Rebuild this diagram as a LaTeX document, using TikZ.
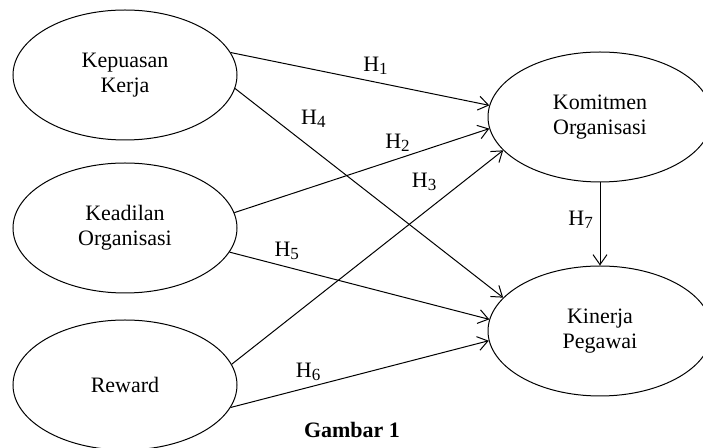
\documentclass[tikz,border=0pt]{standalone}
\usepackage{fontspec}
\setmainfont{Liberation Serif}
\usetikzlibrary{shapes,arrows.meta}
\tikzstyle{var} = [ellipse, draw, line width=0.5pt, inner sep=0pt,
    minimum width=112pt, minimum height=65pt, align=center]
\tikzstyle{line} = [draw, line width=0.5pt, -{Straight Barb[length=5pt,width=7pt]}]
\newcommand{\hsub}[1]{H\raisebox{-0.3ex}{\fontsize{8.5}{8.5}\selectfont #1}}

\begin{document}
\begin{tikzpicture}[x=0.5pt, y=-0.5pt, font=\fontsize{11}{12.5}\selectfont]
    \useasboundingbox (0,0) rectangle (703,448);
    % Place nodes
    \node [var] (kepuasan) at (125,75) {Kepuasan\\Kerja};
    \node [var, below of=kepuasan, node distance=76.5pt] (keadilan) {Keadilan\\Organisasi};
    \node [var, below of=keadilan, node distance=78.5pt] (reward) {Reward};
    \node [var] (komitmen) at (600,117) {Komitmen\\Organisasi};
    \node [var, below of=komitmen, node distance=107pt] (kinerja) {Kinerja\\Pegawai};
    % Draw edges
    \path [line] (kepuasan.12) -- node [pos=0.56, above] {\hsub{1}} (komitmen.174);
    \path [line] (keadilan.8) -- node [pos=0.64, above] {\hsub{2}} (komitmen.186);
    \path [line] (reward.11) -- node [pos=0.78, above left] {\hsub{3}} (komitmen.199);
    \path [line] (kepuasan.-7) -- node [pos=0.22, above right] {\hsub{4}} (kinerja.161);
    \path [line] (keadilan.-13) -- node [pos=0.22, above] {\hsub{5}} (kinerja.174);
    \path [line] (reward.-12) -- node [pos=0.3, above] {\hsub{6}} (kinerja.185);
    \path [line] (komitmen.south) -- node [pos=0.45, left] {\hsub{7}} (kinerja.north);
    % Caption
    \node (caption) at (352,430) {\textbf{Gambar 1}};
\end{tikzpicture}
\end{document}
